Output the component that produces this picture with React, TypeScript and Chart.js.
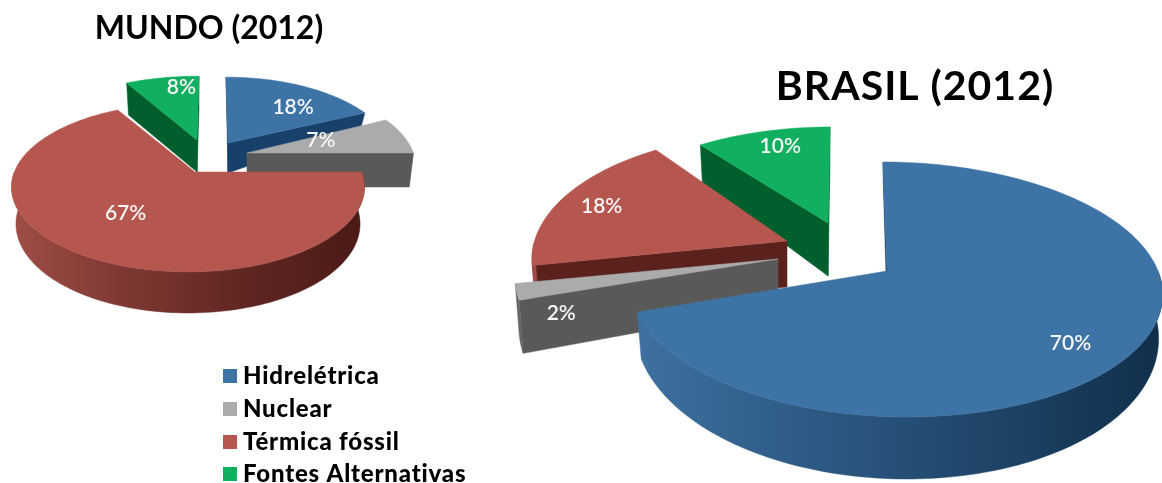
import React, { useEffect, useRef } from "react";
import { Chart, registerables } from "chart.js";

Chart.register(...registerables);

const categories = ["Hidrelétrica", "Nuclear", "Térmica fóssil", "Fontes Alternativas"];
const mundoValues = [18, 7, 67, 8];
const brasilValues = [70, 2, 18, 10];
const mundoTitle = "MUNDO (2012)";
const brasilTitle = "BRASIL (2012)";

const faceColors = ["#3e73a6", "#ababab", "#b5564f", "#10b060"];
const edgeColors = ["#17416b", "#595959", "#5a211d", "#015f2e"];
const rimStops = [
  ["#3f709f", "#2d5a85", "#1f4568", "#10304c"],
  ["#666666", "#5c5c5c", "#555555", "#505050"],
  ["#a04d47", "#7d3732", "#5f2622", "#4a1a17"],
  ["#0a7a42", "#06683a", "#015f2e", "#01522a"],
];

const FONT = "Lato, 'Open Sans', sans-serif";

type Slice = {
  cx: number; cy: number; sx: number;
  apex: [number, number];
  dep: number; slope: number; skew: number;
  label: [number, number];
};
type Scene = {
  rx: number; ry: number; k: number; taper: number;
  rimFrom: number; rimTo: number;
  order: number[];
  slices: Slice[];
  title: { x: number; y: number; size: number; spacing: number };
  labelSize: number;
};

const mundoScene: Scene = {
  rx: 179, ry: 84.4, k: 0.184, taper: 0.975, rimFrom: 10, rimTo: 366,
  order: [3, 0, 1, 2],
  slices: [
    { cx: 226, cy: 146, sx: 0.93, apex: [2, -3], dep: 30, slope: 1.33, skew: 0, label: [15, 3] },
    { cx: 247, cy: 153, sx: 0.93, apex: [0, 0], dep: 34, slope: 0, skew: 0, label: [-29, -1] },
    { cx: 188, cy: 172, sx: 0.97, apex: [7, 0], dep: 36, slope: 0.14, skew: 0, label: [1, -11] },
    { cx: 199, cy: 145, sx: 1, apex: [-2, -5], dep: 32, slope: 0, skew: 0, label: [8, -11] },
  ],
  title: { x: 209, y: 29, size: 32, spacing: 0 },
  labelSize: 21,
};

const brasilScene: Scene = {
  rx: 263, ry: 127.5, k: 0.145, taper: 0.985, rimFrom: 636, rimTo: 1160,
  order: [3, 2, 1, 0],
  slices: [
    { cx: 895, cy: 271, sx: 1, apex: [-8, 0], dep: 40, slope: 0.55, skew: 12, label: [25, 21] },
    { cx: 778, cy: 259, sx: 0.99, apex: [0, 0], dep: 48, slope: 0.35, skew: 0, label: [-49, 33] },
    { cx: 787, cy: 241, sx: 0.96, apex: [0, 0], dep: 46, slope: 0, skew: 0, label: [-38, -5] },
    { cx: 830, cy: 236, sx: 0.95, apex: [-2, -13], dep: 53, slope: 0.35, skew: 0, label: [-4, -18] },
  ],
  title: { x: 915, y: 87, size: 41, spacing: 1 },
  labelSize: 21,
};

const legendLayout = { boxX: 223, textX: 243, box: 14, rows: [376, 409, 442, 474], size: 24, spacing: 0.8 };

// Tilted-disc projection: angle runs clockwise from 12 o'clock, f is the radial fraction.
function project(sc: Scene, s: Slice, theta: number, f = 1) {
  const u = Math.sin(theta) * f;
  const v = -Math.cos(theta) * f;
  const p = 1 + sc.k * v;
  return { x: s.cx + s.skew * v + sc.rx * s.sx * u * p, y: s.cy + sc.ry * v * p, v };
}

function drop(sc: Scene, s: Slice, pt: { x: number; y: number; v: number }) {
  const depth = Math.max(0, s.dep * (1 + s.slope * pt.v));
  return { x: s.cx + (pt.x - s.cx) * sc.taper, y: pt.y + depth, v: pt.v };
}

function fillPoly(ctx: CanvasRenderingContext2D, pts: { x: number; y: number }[], style: string | CanvasGradient) {
  ctx.beginPath();
  pts.forEach((p, i) => (i ? ctx.lineTo(p.x, p.y) : ctx.moveTo(p.x, p.y)));
  ctx.closePath();
  ctx.fillStyle = style;
  ctx.fill();
  ctx.strokeStyle = style;
  ctx.lineWidth = 0.5;
  ctx.lineJoin = "round";
  ctx.stroke();
}

function drawSlice(ctx: CanvasRenderingContext2D, chart: any, sc: Scene, idx: number) {
  const arc = chart.getDatasetMeta(0).data[idx];
  const s = sc.slices[idx];
  const t0 = arc.startAngle + Math.PI / 2;
  const t1 = arc.endAngle + Math.PI / 2;
  const steps = Math.max(4, Math.ceil((t1 - t0) * 40));
  const rim = [];
  for (let i = 0; i <= steps; i++) rim.push(project(sc, s, t0 + ((t1 - t0) * i) / steps));
  const apex = { x: s.cx + s.apex[0], y: s.cy + s.apex[1], v: 0 };
  const inner = project(sc, s, (t0 + t1) / 2, 0.6);

  // Cut faces hang below the top only where they look toward the viewer.
  for (const end of [rim[0], rim[rim.length - 1]]) {
    const ex = end.x - apex.x;
    const ey = end.y - apex.y;
    const side = ex * (inner.y - apex.y) - ey * (inner.x - apex.x);
    if (side * ex < 0) {
      fillPoly(ctx, [apex, end, drop(sc, s, end), drop(sc, s, apex)], edgeColors[idx]);
    }
  }

  // Outer wall, shaded from left to right.
  const front = rim.filter((p) => p.v > 0);
  if (front.length > 1) {
    const g = ctx.createLinearGradient(sc.rimFrom, 0, sc.rimTo, 0);
    rimStops[idx].forEach((c, i, all) => g.addColorStop(i / (all.length - 1), c));
    fillPoly(ctx, [...front, ...front.map((p) => drop(sc, s, p)).reverse()], g);
  }

  fillPoly(ctx, [apex, ...rim], faceColors[idx]);
}

function makeTiltPlugin(sc: Scene, title: string, withLegend: boolean) {
  return {
    id: "tiltedPie",
    beforeDatasetsDraw(chart: any) {
      const ctx: CanvasRenderingContext2D = chart.ctx;
      ctx.save();
      sc.order.forEach((i) => drawSlice(ctx, chart, sc, i));

      const meta = chart.getDatasetMeta(0).data;
      const values = chart.data.datasets[0].data;
      ctx.fillStyle = "#f6f6f6";
      ctx.textAlign = "center";
      ctx.textBaseline = "middle";
      ctx.font = `600 ${sc.labelSize}px ${FONT}`;
      meta.forEach((arc: any, i: number) => {
        const s = sc.slices[i];
        const mid = (arc.startAngle + arc.endAngle) / 2 + Math.PI / 2;
        const at = project(sc, s, mid, 0.65);
        ctx.fillText(`${values[i]}%`, at.x + s.label[0], at.y + s.label[1]);
      });

      ctx.fillStyle = "#000";
      ctx.font = `bold ${sc.title.size}px ${FONT}`;
      (ctx as any).letterSpacing = `${sc.title.spacing}px`;
      ctx.fillText(title, sc.title.x, sc.title.y);

      if (withLegend) {
        ctx.textAlign = "left";
        ctx.font = `900 ${legendLayout.size}px ${FONT}`;
        (ctx as any).letterSpacing = `${legendLayout.spacing}px`;
        chart.data.labels.forEach((name: string, i: number) => {
          const y = legendLayout.rows[i];
          ctx.fillStyle = faceColors[i];
          ctx.fillRect(legendLayout.boxX, y - legendLayout.box / 2, legendLayout.box, legendLayout.box);
          ctx.fillStyle = "#000";
          ctx.fillText(name, legendLayout.textX, y);
        });
      }
      ctx.restore();
      return false;
    },
  };
}

function buildChart(canvas: HTMLCanvasElement, values: number[], sc: Scene, title: string, withLegend: boolean) {
  return new Chart(canvas, {
    type: "pie",
    data: { labels: categories, datasets: [{ data: values, backgroundColor: faceColors, borderWidth: 0 }] },
    options: {
      responsive: false,
      animation: false,
      events: [],
      plugins: { legend: { display: false }, tooltip: { enabled: false } },
    },
    plugins: [makeTiltPlugin(sc, title, withLegend)],
  });
}

const layerStyle: React.CSSProperties = { position: "absolute", left: 0, top: 0, width: 1162, height: 483 };

export default function App() {
  const mundoRef = useRef<HTMLCanvasElement>(null);
  const brasilRef = useRef<HTMLCanvasElement>(null);

  useEffect(() => {
    const a = buildChart(mundoRef.current!, mundoValues, mundoScene, mundoTitle, true);
    const b = buildChart(brasilRef.current!, brasilValues, brasilScene, brasilTitle, false);
    return () => {
      a.destroy();
      b.destroy();
    };
  }, []);

  return (
    <div style={{ ...layerStyle, background: "#fff", overflow: "hidden" }}>
      <canvas ref={brasilRef} width={1162} height={483} style={layerStyle} />
      <canvas ref={mundoRef} width={1162} height={483} style={layerStyle} />
    </div>
  );
}
